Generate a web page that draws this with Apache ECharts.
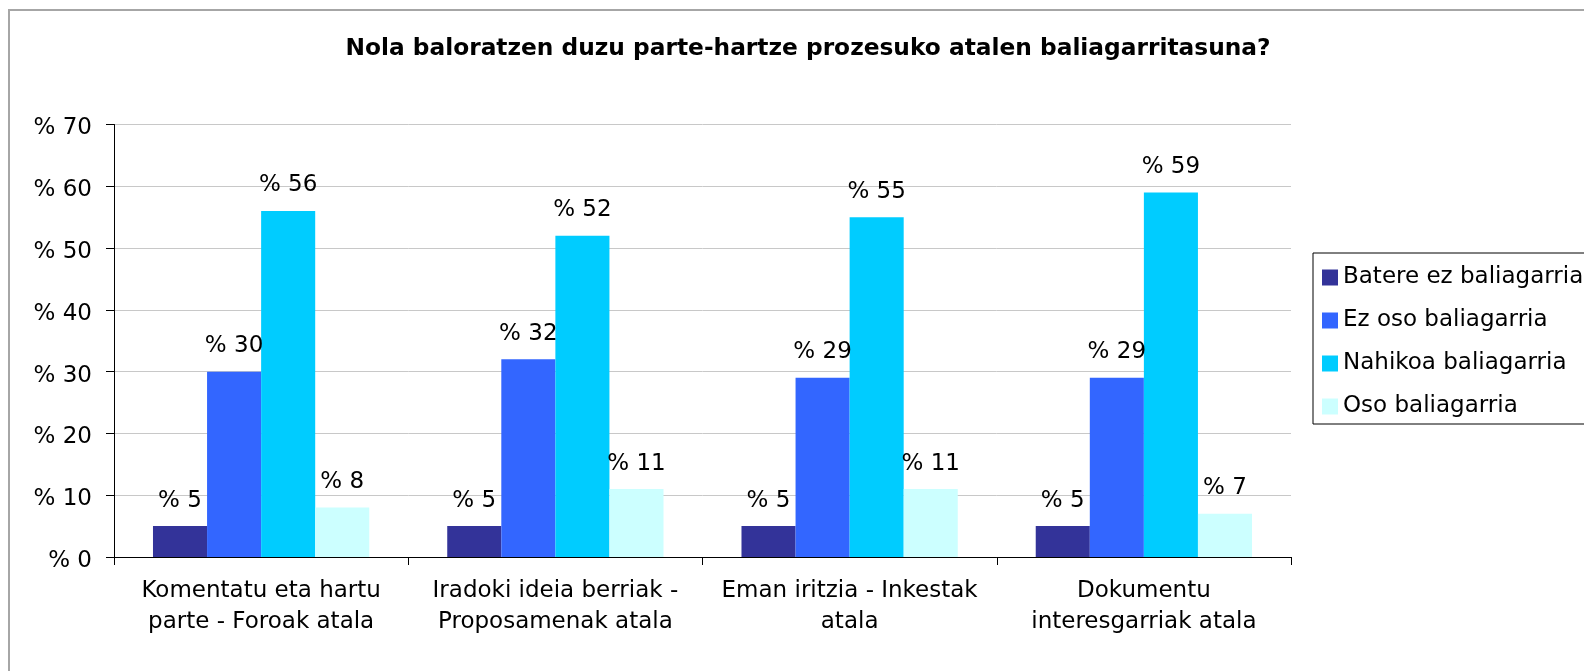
<!DOCTYPE html>
<html>
<head>
<meta charset="utf-8">
<script src="https://cdn.jsdelivr.net/npm/echarts@6/dist/echarts.min.js"></script>
<style>
  html, body { margin: 0; padding: 0; background: #ffffff; }
  #chart { width: 1584px; height: 671px; }
</style>
</head>
<body>
<div id="chart"></div>
<script>
// Survey answers: how useful each section of the participation process is (%)
const categories = [
  'Komentatu eta hartu\nparte - Foroak atala',
  'Iradoki ideia berriak -\nProposamenak atala',
  'Eman iritzia - Inkestak\natala',
  'Dokumentu\ninteresgarriak atala'
];
const seriesNames = [
  'Batere ez baliagarria',
  'Ez oso baliagarria',
  'Nahikoa baliagarria',
  'Oso baliagarria'
];
const bateGabe = [5, 5, 5, 5];
const ezOso = [30, 32, 29, 29];
const nahikoa = [56, 52, 55, 59];
const oso = [8, 11, 11, 7];
const yTicks = [0, 10, 20, 30, 40, 50, 60, 70];

const colors = ['#333399', '#3366FF', '#00CCFF', '#CCFFFF'];
const FONT = 'DejaVu Sans';

const valueSets = [bateGabe, ezOso, nahikoa, oso];

const chart = echarts.init(document.getElementById('chart'), null, { renderer: 'canvas' });

const series = seriesNames.map((name, i) => ({
  name: name,
  type: 'bar',
  data: valueSets[i],
  barGap: '0%',
  barCategoryGap: '26.5%',
  itemStyle: { color: colors[i] },
  label: {
    show: true,
    position: 'top',
    distance: 14,
    color: '#000',
    fontFamily: FONT,
    fontSize: 23,
    formatter: p => '% ' + p.value
  }
}));

chart.setOption({
  animation: false,
  backgroundColor: '#ffffff',
  color: colors,
  title: {
    text: 'Nola baloratzen duzu parte-hartze prozesuko atalen baliagarritasuna?',
    left: 803,
    textAlign: 'center',
    top: 32,
    textStyle: {
      fontFamily: FONT,
      fontWeight: 'bold',
      fontSize: 23.3,
      color: '#000'
    }
  },
  graphic: [{
    type: 'rect',
    silent: true,
    z: -10,
    shape: { x: 9, y: 10, width: 1700, height: 800 },
    style: { fill: 'none', stroke: '#a6a6a6', lineWidth: 2 }
  }],
  legend: {
    orient: 'vertical',
    left: 1313,
    top: 253,
    padding: [13, 60, 6, 9],
    itemWidth: 16,
    itemHeight: 16,
    itemGap: 20,
    itemTextGap: 9,
    itemStyle: { borderWidth: 0 },
    borderColor: '#000',
    borderWidth: 1,
    borderRadius: 0,
    icon: 'rect',
    textStyle: {
      fontFamily: FONT,
      fontSize: 23,
      color: '#000'
    },
    data: seriesNames
  },
  grid: {
    left: 114,
    right: 293,
    top: 124.5,
    bottom: 114,
    containLabel: false
  },
  xAxis: {
    type: 'category',
    data: categories,
    axisLine: { lineStyle: { color: '#000', width: 1 } },
    axisTick: { show: true, length: 8, lineStyle: { color: '#000' } },
    axisLabel: {
      color: '#000',
      fontFamily: FONT,
      fontSize: 23,
      lineHeight: 31,
      margin: 19,
      interval: 0
    }
  },
  yAxis: {
    type: 'value',
    min: yTicks[0],
    max: yTicks[yTicks.length - 1],
    interval: 10,
    axisLine: { show: true, lineStyle: { color: '#000', width: 1 } },
    axisTick: { show: true, length: 8, lineStyle: { color: '#000' } },
    splitLine: { lineStyle: { color: '#c8c8c8', width: 1 } },
    axisLabel: {
      color: '#000',
      fontFamily: FONT,
      fontSize: 23,
      margin: 22,
      verticalAlign: 'top',
      lineHeight: 8,
      formatter: v => '% ' + v
    }
  },
  series: series
});
</script>
</body>
</html>
